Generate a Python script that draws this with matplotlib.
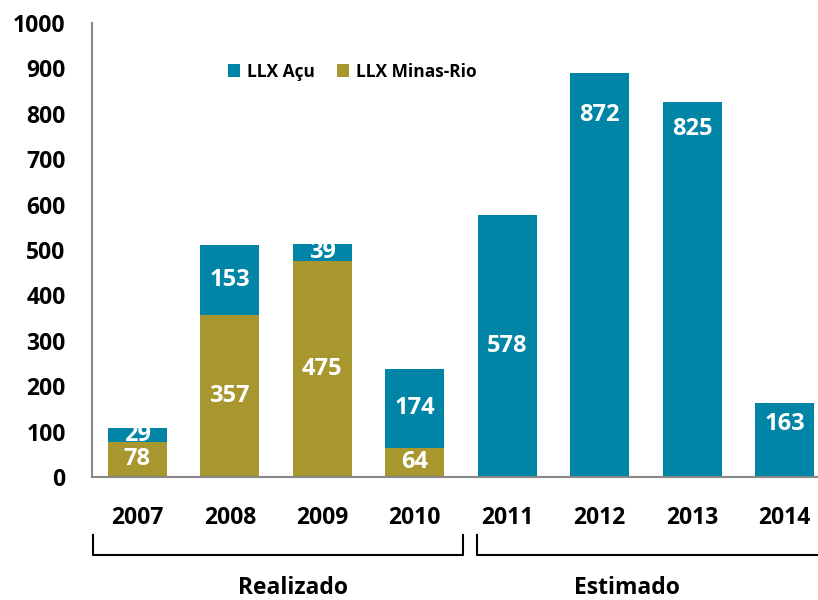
import matplotlib
matplotlib.use("Agg")
import matplotlib.pyplot as plt
from matplotlib.lines import Line2D

years = ["2007", "2008", "2009", "2010", "2011", "2012", "2013", "2014"]
minas_rio = [78, 357, 475, 64, 0, 0, 0, 0]
acu = [29, 153, 39, 174, 578, 890, 825, 163]
acu_labels = ["29", "153", "39", "174", "578", "872", "825", "163"]
minas_labels = ["78", "357", "475", "64", "", "", "", ""]
groups = ["Realizado", "Estimado"]

TEAL = "#0085A7"
GOLD = "#A8962E"

plt.rcParams["font.family"] = ["Open Sans", "DejaVu Sans"]
plt.rcParams["font.weight"] = "bold"

fig = plt.figure(figsize=(8.18, 6), dpi=100)
ax = fig.add_axes([92 / 818, 1 - 477 / 600, 1 - 92 / 818, (477 - 23) / 600])

x = range(len(years))
b1 = ax.bar(x, minas_rio, width=0.64, color=GOLD, label="LLX Minas-Rio", zorder=2)
b2 = ax.bar(x, acu, width=0.64, bottom=minas_rio, color=TEAL, label="LLX Açu", zorder=2)

ax.bar_label(b1, labels=minas_labels, label_type="center", color="white",
             fontsize=17, fontweight="bold")
# the last three labels sit near the top of the bar in the original
top_offsets = {5: -30, 6: -19, 7: -15}
centre_labels = [lab if i not in top_offsets else "" for i, lab in enumerate(acu_labels)]
ax.bar_label(b2, labels=centre_labels, label_type="center", color="white",
             fontsize=17, fontweight="bold")
for i, off in top_offsets.items():
    ax.annotate(acu_labels[i], (i, minas_rio[i] + acu[i]), xytext=(0, off),
                textcoords="offset points", ha="center", va="center",
                color="white", fontsize=17, fontweight="bold")

ax.set_ylim(0, 1000)
ax.set_xlim(-0.49, 7.36)
ax.set_yticks(range(0, 1001, 100))
ax.set_xticks(list(x))
ax.set_xticklabels(years)
ax.tick_params(axis="y", length=0, pad=19, labelsize=16.5)
ax.tick_params(axis="x", length=0, pad=21, labelsize=16.5)
for s in ("top", "right"):
    ax.spines[s].set_visible(False)
for s in ("left", "bottom"):
    ax.spines[s].set_color("#888888")
    ax.spines[s].set_linewidth(1.5)

handles, labels = ax.get_legend_handles_labels()
ax.legend(handles[::-1], labels[::-1], loc="upper left", ncol=2, frameon=False,
          bbox_to_anchor=(212 / 818, 1 - 47 / 600), bbox_transform=fig.transFigure,
          fontsize=12.5, handlelength=0.7, handleheight=0.7, handletextpad=0.4,
          columnspacing=1.3)

# group brackets under the year labels
def bracket(x0, x1):
    y_top, y_bot = 1 - 535 / 600, 1 - 555 / 600
    fig.add_artist(Line2D([x0 / 818, x0 / 818, x1 / 818, x1 / 818],
                          [y_top, y_bot, y_bot, y_top], color="black", lw=1.5))

bracket(93, 463)
bracket(477, 830)
fig.text(293 / 818, 1 - 588 / 600, groups[0], ha="center", va="center", fontsize=16.5)
fig.text(627 / 818, 1 - 588 / 600, groups[1], ha="center", va="center", fontsize=16.5)

fig.savefig("out.png", dpi=100, facecolor="white")
